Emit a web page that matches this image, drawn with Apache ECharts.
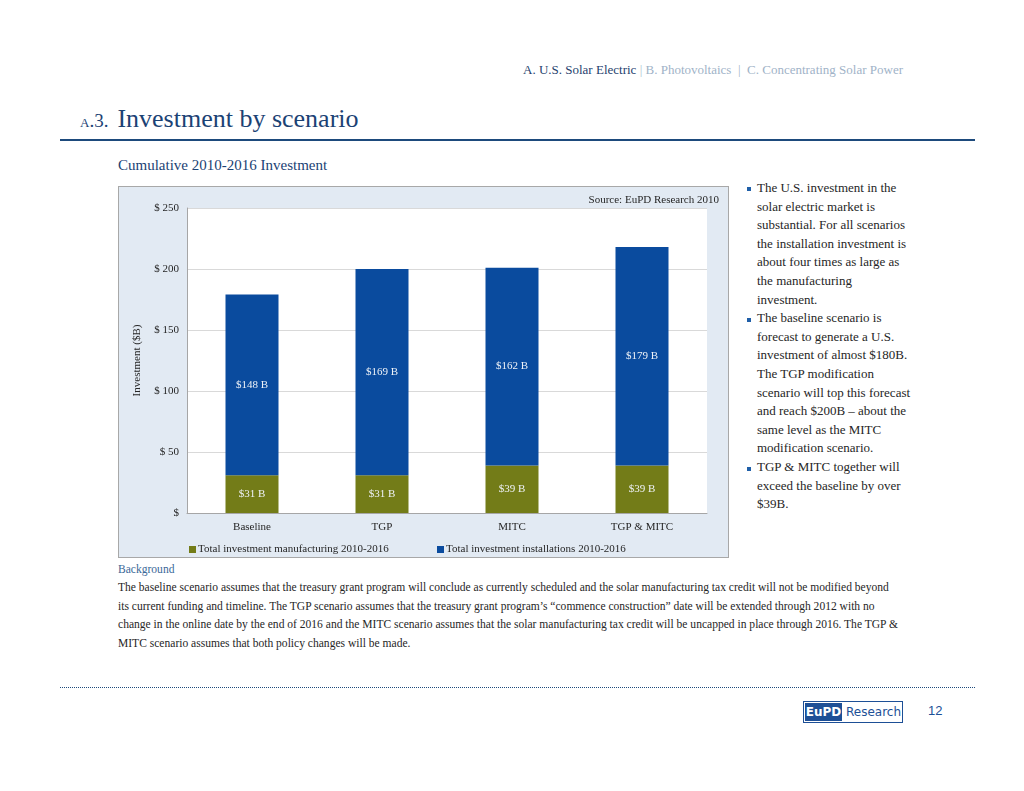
<!DOCTYPE html>
<html>
<head>
<meta charset="utf-8">
<script src="https://cdn.jsdelivr.net/npm/echarts@6/dist/echarts.min.js"></script>
<style>
  html,body{margin:0;padding:0;background:#fff;}
  body{width:1024px;height:791px;position:relative;overflow:hidden;font-family:"Liberation Serif","Times New Roman",serif;}
  .abs{position:absolute;white-space:nowrap;}
  #chart{position:absolute;left:118px;top:186px;width:611px;height:372px;background:#e2eaf3;border:1px solid #a8a8a8;box-sizing:border-box;}
  .bul{position:absolute;left:757px;font-size:13px;color:#262626;line-height:18.6px;}
  .bul p{margin:0;}
  .sq{position:absolute;width:4px;height:4px;background:#1f5fa8;}
  .bg{position:absolute;left:118px;font-size:11.55px;color:#262626;white-space:nowrap;}
</style>
</head>
<body>
<div class="abs" style="left:523px;top:62px;font-size:13px;color:#9fb3c8;">
  <span style="color:#1f3f6e;">A. U.S. Solar Electric</span> <span style="color:#b0bfd0;">|</span> B. Photovoltaics &nbsp;|&nbsp; C. Concentrating Solar Power
</div>
<div class="abs" style="left:80px;top:104px;color:#1b4274;">
  <span style="font-size:19px;font-variant:small-caps;">a.3.</span><span style="font-size:26px;margin-left:9px;">Investment by scenario</span>
</div>
<div class="abs" style="left:60px;top:139px;width:915px;height:2px;background:#1d4a7c;"></div>
<div class="abs" style="left:118px;top:157px;font-size:15px;color:#1b4274;">Cumulative 2010-2016 Investment</div>

<div id="chart"></div>

<div class="sq" style="left:747px;top:187px;"></div>
<div class="sq" style="left:747px;top:318px;"></div>
<div class="sq" style="left:747px;top:467px;"></div>
<div class="bul" style="top:179px;">
<p>The U.S. investment in the</p>
<p>solar electric market is</p>
<p>substantial. For all scenarios</p>
<p>the installation investment is</p>
<p>about four times as large as</p>
<p>the manufacturing</p>
<p>investment.</p>
<p>The baseline scenario is</p>
<p>forecast to generate a U.S.</p>
<p>investment of almost $180B.</p>
<p>The TGP modification</p>
<p>scenario will top this forecast</p>
<p>and reach $200B – about the</p>
<p>same level as the MITC</p>
<p>modification scenario.</p>
<p>TGP &amp; MITC together will</p>
<p>exceed the baseline by over</p>
<p>$39B.</p>
</div>

<div class="bg" style="top:563px;color:#3a6898;">Background</div>
<div class="bg" style="top:581px;">The baseline scenario assumes that the treasury grant program will conclude as currently scheduled and the solar manufacturing tax credit will not be modified beyond</div>
<div class="bg" style="top:599.5px;">its current funding and timeline. The TGP scenario assumes that the treasury grant program’s “commence construction” date will be extended through 2012 with no</div>
<div class="bg" style="top:618px;">change in the online date by the end of 2016 and the MITC scenario assumes that the solar manufacturing tax credit will be uncapped in place through 2016. The TGP &amp;</div>
<div class="bg" style="top:636.5px;">MITC scenario assumes that both policy changes will be made.</div>

<div class="abs" style="left:60px;top:687px;width:915px;height:0;border-top:1px dotted #1d4a7c;"></div>

<div class="abs" style="left:803px;top:701px;width:100px;height:22px;border:1px solid #1d4f96;box-sizing:border-box;font-family:'DejaVu Sans',sans-serif;font-size:12px;">
  <span style="position:absolute;left:1px;top:1px;width:37px;height:18px;background:#1d4f96;color:#fff;font-weight:bold;text-align:center;line-height:18px;">EuPD</span>
  <span style="position:absolute;left:42px;top:1px;color:#1d4f96;line-height:18px;">Research</span>
</div>
<div class="abs" style="left:928px;top:703px;font-family:'Liberation Sans',sans-serif;font-size:13px;color:#1d4f96;">12</div>

<script>
const categories = ['Baseline', 'TGP', 'MITC', 'TGP & MITC'];
const manufacturing = [31, 31, 39, 39];
const installations = [148, 169, 162, 179];
const yTicks = [0, 50, 100, 150, 200, 250];
const seriesNames = ['Total investment manufacturing 2010-2016', 'Total investment installations 2010-2016'];

const chart = echarts.init(document.getElementById('chart'), null, {renderer: 'canvas'});
const font = '"Liberation Serif","Times New Roman",serif';
const labelStyle = {
  show: true, position: 'inside', color: '#eef2f7', fontFamily: font, fontSize: 11,
  formatter: p => '$' + p.value + ' B'
};
chart.setOption({
  animation: false,
  textStyle: {fontFamily: font},
  grid: {left: 68, top: 21, width: 520, height: 305, show: true, backgroundColor: '#ffffff', borderWidth: 0},
  graphic: [{
    type: 'text', right: 9, top: 8,
    style: {text: 'Source: EuPD Research 2010', fill: '#262626', font: '11px ' + font}
  }],
  legend: [
    {data: [seriesNames[0]], left: 65, top: 352, icon: 'rect', itemWidth: 7, itemHeight: 7, itemGap: 4,
     textStyle: {fontFamily: font, fontSize: 11, color: '#262626', padding: [0,0,0,-3]}},
    {data: [seriesNames[1]], left: 313, top: 352, icon: 'rect', itemWidth: 7, itemHeight: 7, itemGap: 4,
     textStyle: {fontFamily: font, fontSize: 11, color: '#262626', padding: [0,0,0,-3]}}
  ],
  xAxis: {
    type: 'category', data: categories,
    axisLine: {lineStyle: {color: '#a6a6a6'}},
    axisTick: {show: false},
    axisLabel: {color: '#262626', fontFamily: font, fontSize: 11, margin: 9}
  },
  yAxis: {
    type: 'value', min: 0, max: 250, interval: 50,
    name: 'Investment ($B)', nameLocation: 'middle', nameGap: 44, nameRotate: 90,
    nameTextStyle: {color: '#262626', fontFamily: font, fontSize: 11},
    axisLine: {show: true, lineStyle: {color: '#a6a6a6'}},
    axisTick: {show: false},
    axisLabel: {color: '#262626', fontFamily: font, fontSize: 11, margin: 8,
      formatter: v => yTicks.indexOf(v) === 0 ? '$' : '$ ' + v},
    splitLine: {lineStyle: {color: '#d9d9d9'}}
  },
  series: [
    {name: seriesNames[0], type: 'bar', stack: 'total', data: manufacturing, barWidth: 53,
     itemStyle: {color: '#737c18'}, label: labelStyle},
    {name: seriesNames[1], type: 'bar', stack: 'total', data: installations, barWidth: 53,
     itemStyle: {color: '#0a4b9e'}, label: labelStyle}
  ]
});
</script>
</body>
</html>
